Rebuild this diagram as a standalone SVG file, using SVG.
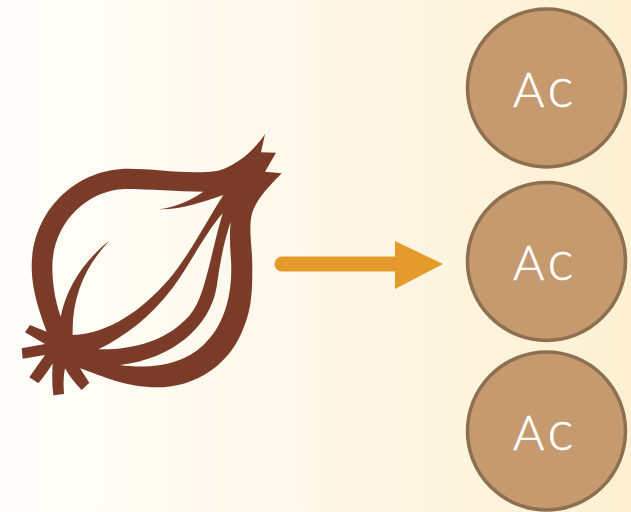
<svg xmlns="http://www.w3.org/2000/svg" width="631" height="512" viewBox="0 0 631 512">
<defs>
<linearGradient id="bg" x1="0" y1="0" x2="1" y2="0"><stop offset="0" stop-color="#fffefb"/><stop offset=".5" stop-color="#fef8e9"/><stop offset="1" stop-color="#fdf0d2"/></linearGradient>
</defs>
<style>
.c{fill:#c49a6e;stroke:#8e6f50;stroke-width:3.500}
.t{fill:#fff;stroke:#fff;stroke-width:.5;font-family:"Lato","Open Sans",sans-serif;font-weight:300;font-size:48px}
.s{font-size:55px}
</style>
<rect width="631" height="512" fill="url(#bg)"/>
<g id="onion"><path transform="translate(0 120) scale(.33333)" fill="#7a3c28" fill-rule="evenodd" d="M795 42L783 97L828 98L795 155L845 160C800 205 765 245 755 285C745 330 757 380 757 440C757 500 757 560 732 620C692 732 590 802 470 802C380 802 310 770 240 745L268 788L245 810C225 790 208 768 195 745C190 770 190 795 192 822L160 826C156 795 156 762 158 730C145 752 130 772 115 790L88 772L135 705L68 716L65 685L135 672L75 637L90 615L140 635C118 575 95 510 95 440C95 275 225 146 385 146C470 146 570 165 655 152C710 135 760 95 795 42Z
M610 215C530 215 450 207 375 207C250 212 157 320 157 440C157 490 165 540 182 590C200 500 255 420 328 362C255 440 215 530 218 645C330 640 425 570 505 480C565 410 610 320 670 225C610 245 545 270 475 268C525 262 575 240 610 215Z
M668 280C615 340 572 430 517 505C452 590 375 650 295 688C395 690 500 665 570 585C615 530 625 430 668 280Z
M692 305C670 370 660 430 650 500C630 620 520 715 360 735C450 748 560 735 622 662C682 600 698 500 693 420C690 380 688 340 692 305Z"/></g>
<g id="connectors"><path d="M282 264H400" stroke="#e59a2c" stroke-width="15" stroke-linecap="round" fill="none"/><path d="M395 241L443 264L395 289Z" fill="#e59a2c"/></g>
<g id="node1"><circle class="c" cx="546.500" cy="88" r="79"/><text class="t" x="513" y="107">A<tspan class="s" dx="3">c</tspan></text></g>
<g id="node2"><circle class="c" cx="546.500" cy="261.500" r="79"/><text class="t" x="513" y="280">A<tspan class="s" dx="3">c</tspan></text></g>
<g id="node3"><circle class="c" cx="546.500" cy="431" r="79"/><text class="t" x="513" y="450">A<tspan class="s" dx="3">c</tspan></text></g>
</svg>
